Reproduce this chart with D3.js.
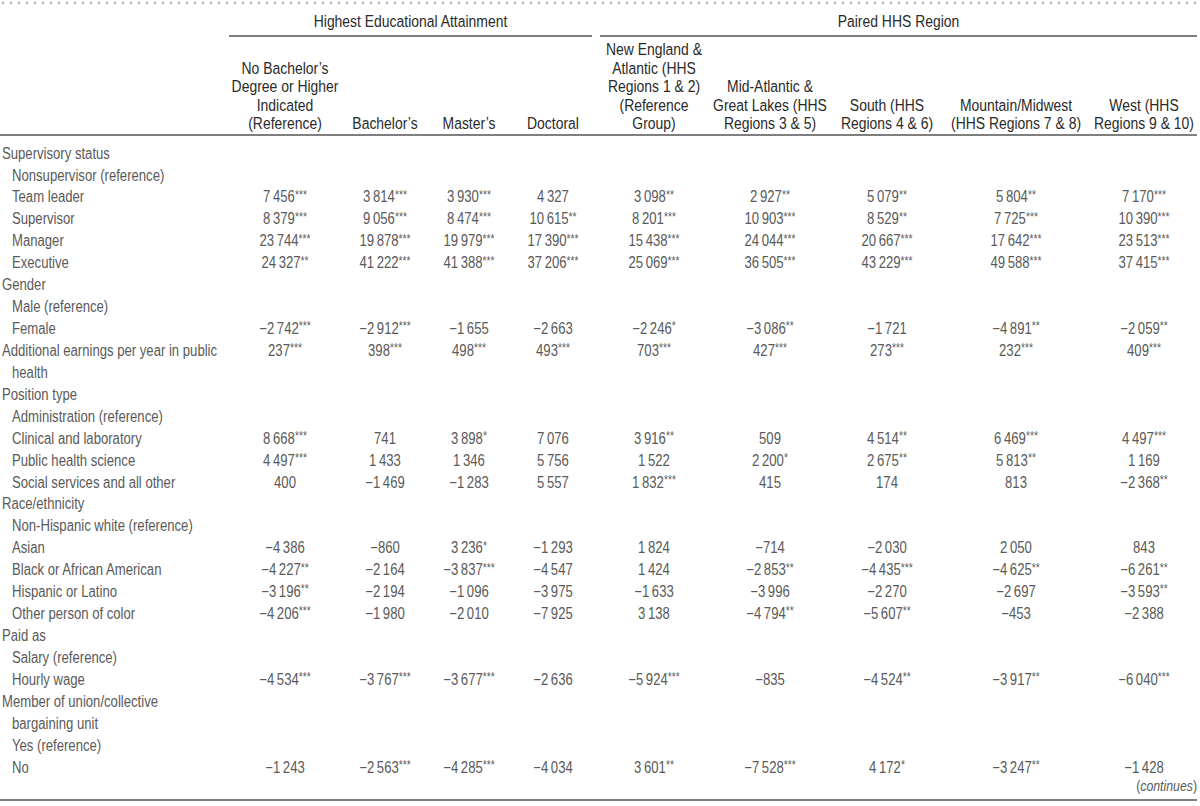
<!DOCTYPE html>
<html>
<head>
<meta charset="utf-8">
<script src="https://cdn.jsdelivr.net/npm/d3@7"></script>
<style>
  body { margin: 0; background: #fff; }
  svg { display: block; font-family: "Liberation Sans", Arial, sans-serif; }
</style>
</head>
<body>
<script>
// row labels, level 0 = section, 1 = indented item
const rowLabels = [
  "Supervisory status", "Nonsupervisor (reference)", "Team leader", "Supervisor", "Manager", "Executive",
  "Gender", "Male (reference)", "Female",
  "Additional earnings per year in public", "health",
  "Position type", "Administration (reference)", "Clinical and laboratory", "Public health science", "Social services and all other",
  "Race/ethnicity", "Non-Hispanic white (reference)", "Asian", "Black or African American", "Hispanic or Latino", "Other person of color",
  "Paid as", "Salary (reference)", "Hourly wage",
  "Member of union/collective", "bargaining unit", "Yes (reference)", "No"
];
const rowLevels = [0,1,1,1,1,1, 0,1,1, 0,1, 0,1,1,1,1, 0,1,1,1,1,1, 0,1,1, 0,1,1,1];

// rows that carry numbers (index into rowLabels)
const dataRows = [2, 3, 4, 5, 8, 9, 13, 14, 15, 18, 19, 20, 21, 24, 28];

const groupNames = ["Highest Educational Attainment", "Paired HHS Region"];
const colHeaders = [
  ["No Bachelor\u2019s", "Degree or Higher", "Indicated", "(Reference)"],
  ["Bachelor\u2019s"],
  ["Master\u2019s"],
  ["Doctoral"],
  ["New England &", "Atlantic (HHS", "Regions 1 & 2)", "(Reference", "Group)"],
  ["Mid-Atlantic &", "Great Lakes (HHS", "Regions 3 & 5)"],
  ["South (HHS", "Regions 4 & 6)"],
  ["Mountain/Midwest", "(HHS Regions 7 & 8)"],
  ["West (HHS", "Regions 9 & 10)"]
];

// values per column, same order as dataRows
const noBachelor  = [7456, 8379, 23744, 24327, -2742, 237, 8668, 4497, 400, -4386, -4227, -3196, -4206, -4534, -1243];
const bachelor    = [3814, 9056, 19878, 41222, -2912, 398, 741, 1433, -1469, -860, -2164, -2194, -1980, -3767, -2563];
const master      = [3930, 8474, 19979, 41388, -1655, 498, 3898, 1346, -1283, 3236, -3837, -1096, -2010, -3677, -4285];
const doctoral    = [4327, 10615, 17390, 37206, -2663, 493, 7076, 5756, 5557, -1293, -4547, -3975, -7925, -2636, -4034];
const newEngland  = [3098, 8201, 15438, 25069, -2246, 703, 3916, 1522, 1832, 1824, 1424, -1633, 3138, -5924, 3601];
const midAtlantic = [2927, 10903, 24044, 36505, -3086, 427, 509, 2200, 415, -714, -2853, -3996, -4794, -835, -7528];
const south       = [5079, 8529, 20667, 43229, -1721, 273, 4514, 2675, 174, -2030, -4435, -2270, -5607, -4524, 4172];
const mountain    = [5804, 7725, 17642, 49588, -4891, 232, 6469, 5813, 813, 2050, -4625, -2697, -453, -3917, -3247];
const west        = [7170, 10390, 23513, 37415, -2059, 409, 4497, 1169, -2368, 843, -6261, -3593, -2388, -6040, -1428];

// significance stars (count of *)
const noBachelorSig  = [3,3,3,2,3,3,3,3,0,0,2,2,3,3,0];
const bachelorSig    = [3,3,3,3,3,3,0,0,0,0,0,0,0,3,3];
const masterSig      = [3,3,3,3,0,3,1,0,0,1,3,0,0,3,3];
const doctoralSig    = [0,2,3,3,0,3,0,0,0,0,0,0,0,0,0];
const newEnglandSig  = [2,3,3,3,1,3,2,0,3,0,0,0,0,3,2];
const midAtlanticSig = [2,3,3,3,2,3,0,1,0,0,2,0,2,0,3];
const southSig       = [2,2,3,3,0,3,2,2,0,0,3,0,2,2,1];
const mountainSig    = [2,3,3,3,2,3,3,2,0,0,2,0,0,2,2];
const westSig        = [3,3,3,3,2,3,3,0,2,0,2,2,0,3,0];

const columns = [noBachelor, bachelor, master, doctoral, newEngland, midAtlantic, south, mountain, west];
const sigs = [noBachelorSig, bachelorSig, masterSig, doctoralSig, newEnglandSig, midAtlanticSig, southSig, mountainSig, westSig];

let width = 1200, height = 806;
let svg = d3.select("body").append("svg")
  .attr("width", width)
  .attr("height", height);

// squeeze text horizontally to mimic the condensed face
const SX = 0.82;
function place(sel, px, py) {
  return sel.attr("transform", (d, i) => {
    let xx = typeof px === "function" ? px(d, i) : px;
    let yy = typeof py === "function" ? py(d, i) : py;
    return `translate(${xx},${yy}) scale(${SX},1)`;
  });
}

// column centers
let colIdx = d3.range(colHeaders.length);
let x = d3.scaleOrdinal()
  .domain(colIdx)
  .range([285, 385, 469, 553, 654, 770, 887, 1016, 1144]);

// row centers
let y = d3.scaleLinear()
  .domain([0, rowLabels.length - 1])
  .range([153, 767]);

let fmt = d3.formatLocale({
  decimal: ".", thousands: "\u2009", grouping: [3], currency: ["", ""], minus: "\u2212"
}).format(",d");

const headColor = "#2a2a2a";
const bodyColor = "#5a5a5a";
const lineColor = "#555";

// dotted top rule
svg.selectAll(".dot")
  .data(d3.range(3, width, 8))
  .enter()
  .append("circle")
    .attr("cx", d => d)
    .attr("cy", 3)
    .attr("r", 1.4)
    .attr("fill", "#bbb");

// group headers + underlines
let groupSpans = [[229, 592], [600, 1197]];
groupSpans.forEach((s, i) => {
  place(svg.append("text"), (s[0] + s[1]) / 2, 21)
    .attr("dy", "0.35em")
    .attr("text-anchor", "middle")
    .style("font-size", "17px")
    .attr("fill", headColor)
    .text(groupNames[i]);
  svg.append("line")
    .attr("x1", s[0]).attr("x2", s[1])
    .attr("y1", 36).attr("y2", 36)
    .attr("stroke", lineColor)
    .attr("stroke-width", 1.3);
});

// column headers, bottom aligned
const headLine = 18.5;
colHeaders.forEach((lines, i) => {
  lines.forEach((l, j) => {
    place(svg.append("text"), x(i), 123.5 - (lines.length - 1 - j) * headLine)
      .attr("dy", "0.35em")
      .attr("text-anchor", "middle")
      .style("font-size", "17px")
      .attr("fill", headColor)
      .text(l);
  });
});

svg.append("line")
  .attr("x1", 0).attr("x2", 1197)
  .attr("y1", 135).attr("y2", 135)
  .attr("stroke", lineColor)
  .attr("stroke-width", 1.3);

// row labels
place(svg.selectAll(".label")
  .data(rowLabels)
  .enter()
  .append("text")
    .attr("class", "label"), (d, i) => rowLevels[i] ? 12 : 2, (d, i) => y(i))
    .attr("dy", "0.35em")
    .style("font-size", "16px")
    .attr("fill", bodyColor)
    .text(d => d);

// cells
columns.forEach((vals, c) => {
  let cells = place(svg.selectAll(".cell" + c)
    .data(vals)
    .enter()
    .append("text")
      .attr("class", "cell" + c), x(c), (d, i) => y(dataRows[i]))
      .attr("dy", "0.35em")
      .attr("text-anchor", "middle")
      .style("font-size", "16px")
      .attr("fill", bodyColor);
  cells.append("tspan").text(d => fmt(d));
  cells.append("tspan")
    .attr("dy", "-0.3em")
    .style("font-size", "12.5px")
    .text((d, i) => "*".repeat(sigs[c][i]));
});

// continues note
let note = place(svg.append("text"), 1197, 786)
  .attr("dy", "0.35em")
  .attr("text-anchor", "end")
  .style("font-size", "15px")
  .attr("fill", bodyColor);
note.append("tspan").text("(");
note.append("tspan").style("font-style", "italic").text("continues");
note.append("tspan").text(")");

svg.append("line")
  .attr("x1", 0).attr("x2", 1197)
  .attr("y1", 800).attr("y2", 800)
  .attr("stroke", lineColor)
  .attr("stroke-width", 1.3);
</script>
</body>
</html>
